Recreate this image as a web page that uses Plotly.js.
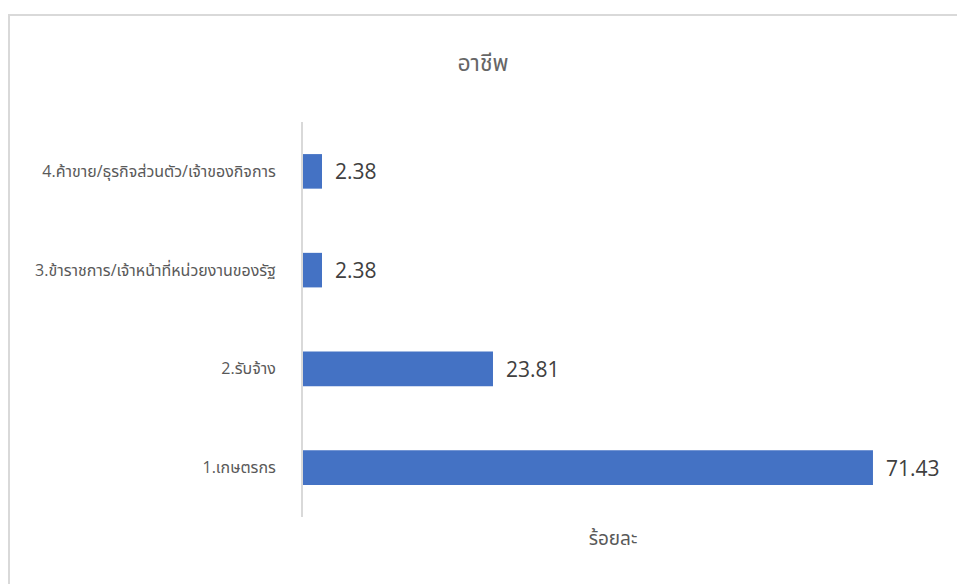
<!DOCTYPE html>
<html>
<head>
<meta charset="utf-8">
<script src="https://cdn.plot.ly/plotly-3.0.1.min.js"></script>
<style>html,body{margin:0;padding:0;background:#fff;}#chart{width:957px;height:584px;}</style>
</head>
<body>
<div id="chart"></div>
<script>
const categories = [
  "1.เกษตรกร",
  "2.รับจ้าง",
  "3.ข้าราชการ/เจ้าหน้าที่หน่วยงานของรัฐ",
  "4.ค้าขาย/ธุรกิจส่วนตัว/เจ้าของกิจการ"
];
const values = [71.43, 23.81, 2.38, 2.38];
const valueLabels = ["71.43", "23.81", "2.38", "2.38"];
const chartTitle = "อาชีพ";
const xTitle = "ร้อยละ";

const FONT = "'Segoe UI', 'Open Sans', 'Noto Sans Thai', 'Noto Sans', sans-serif";

const trace = {
  type: "bar",
  orientation: "h",
  y: categories,
  x: values,
  marker: {color: "#4472C4", line: {width: 0}},
  width: 0.35,
  hoverinfo: "none"
};

const annotations = categories.map((c, i) => ({
  x: values[i], y: c, xref: "x", yref: "y",
  text: valueLabels[i], showarrow: false,
  xanchor: "left", yanchor: "middle", xshift: 11,
  font: {family: FONT, size: 21, color: "#404040"}
}));

const layout = {
  width: 957, height: 584,
  paper_bgcolor: "#ffffff", plot_bgcolor: "#ffffff",
  margin: {l: 303, r: 34, t: 122, b: 67},
  showlegend: false,
  title: {text: chartTitle, x: 483 / 957, xref: "container", xanchor: "center", y: 0.893, yanchor: "middle",
          font: {family: FONT, size: 23, color: "#666666"}},
  xaxis: {
    range: [0, 77.7], showgrid: false, zeroline: false, showline: false,
    showticklabels: false, ticks: "",
    title: {text: xTitle, standoff: 14, font: {family: FONT, size: 19, color: "#595959"}}
  },
  yaxis: {
    type: "category", categoryorder: "array", categoryarray: categories,
    showgrid: false, zeroline: false, showline: true, linecolor: "#d9d9d9", linewidth: 2,
    ticks: "", ticklabelstandoff: 22,
    tickfont: {family: FONT, size: 16, color: "#595959"}
  },
  annotations: annotations,
  shapes: [{
    type: "rect", xref: "paper", yref: "paper",
    x0: (9 - 303) / 620, x1: (975 - 303) / 620,
    y0: (517 - 600) / 395, y1: (517 - 15) / 395,
    line: {color: "#d9d9d9", width: 2}, fillcolor: "rgba(0,0,0,0)", layer: "below"
  }]
};

Plotly.newPlot("chart", [trace], layout, {staticPlot: true, displayModeBar: false});
</script>
</body>
</html>
